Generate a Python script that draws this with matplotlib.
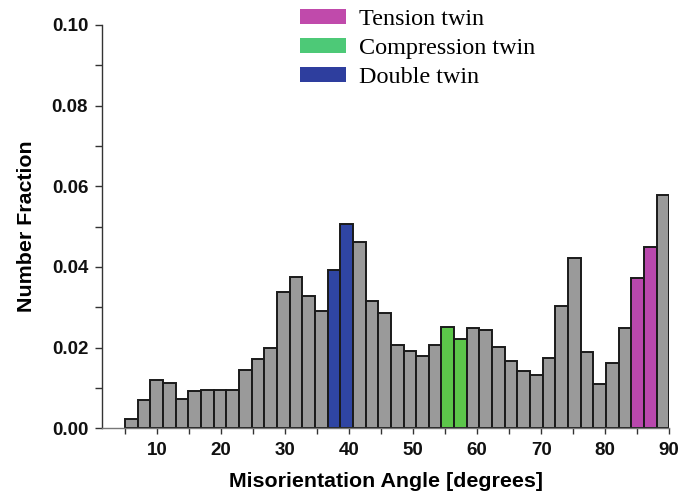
import numpy as np
import matplotlib
matplotlib.use("Agg")
import matplotlib.pyplot as plt
from matplotlib.patches import Patch
from matplotlib.ticker import MultipleLocator

# Misorientation-angle histogram: 43 equal bins spanning 5-90 degrees
angle_min = 5.0
angle_max = 90.0
fractions = [
    0.0022, 0.0070, 0.0120, 0.0113, 0.0073, 0.0093, 0.0096, 0.0096, 0.0096, 0.0144,
    0.0171, 0.0199, 0.0339, 0.0376, 0.0328, 0.0290, 0.0392, 0.0506, 0.0462, 0.0315,
    0.0287, 0.0207, 0.0192, 0.0178, 0.0206, 0.0252, 0.0221, 0.0249, 0.0244, 0.0202,
    0.0166, 0.0141, 0.0131, 0.0173, 0.0303, 0.0421, 0.0188, 0.0111, 0.0161, 0.0249,
    0.0372, 0.0449, 0.0579,
]
# twin type of each bin: '' = ordinary boundary
twin_type = [''] * len(fractions)
for i in (16, 17):
    twin_type[i] = 'double'
for i in (25, 26):
    twin_type[i] = 'compression'
for i in (40, 41):
    twin_type[i] = 'tension'

bar_colors = {
    '': '#9a9a9a',
    'double': '#2f45a3',
    'compression': '#5cc64a',
    'tension': '#b948ad',
}
legend_labels = ['Tension twin', 'Compression twin', 'Double twin']
legend_colors = ['#c04aab', '#4dc977', '#2e3e9e']

edges = np.linspace(angle_min, angle_max, len(fractions) + 1)
widths = np.diff(edges)

fig = plt.figure(figsize=(6.85, 4.98), dpi=100)
ax = fig.add_axes([0.149, 0.140, 0.828, 0.810])

ax.bar(edges[:-1], fractions, width=widths, align='edge',
       color=[bar_colors[t] for t in twin_type],
       edgecolor='#1a1a1a', linewidth=1.4, zorder=2)

ax.set_xlim(1.4, 90)
ax.set_ylim(0, 0.10)

for s in ('top', 'right'):
    ax.spines[s].set_visible(False)
ax.spines['left'].set_color('#333333')
ax.spines['bottom'].set_color('#777777')
ax.spines['left'].set_linewidth(1.0)
ax.spines['bottom'].set_linewidth(1.0)

ax.xaxis.set_major_locator(MultipleLocator(10))
ax.xaxis.set_minor_locator(MultipleLocator(5))
ax.yaxis.set_major_locator(MultipleLocator(0.02))
ax.yaxis.set_minor_locator(MultipleLocator(0.01))
ax.tick_params(axis='both', which='both', direction='out', color='#333333', width=1.0)
ax.tick_params(axis='x', which='both', length=4)
ax.tick_params(axis='y', which='both', length=5)
ax.tick_params(axis='x', which='major', labelsize=13.5, pad=6)
ax.tick_params(axis='y', which='major', labelsize=13.5, pad=5)
ax.set_xticks(np.arange(10, 91, 10))
ax.set_yticklabels([f'{v:.2f}' for v in ax.get_yticks()])

font_sans = ['Liberation Sans', 'DejaVu Sans']
for lab in ax.get_xticklabels() + ax.get_yticklabels():
    lab.set_fontfamily(font_sans)
    lab.set_fontweight('bold')
    lab.set_color('#111111')

ax.set_xlabel('Misorientation Angle [degrees]', fontsize=15.4, fontweight='bold',
              family=font_sans, labelpad=9)
ax.set_ylabel('Number Fraction', fontsize=15.4, fontweight='bold',
              family=font_sans, labelpad=11)

handles = [Patch(facecolor=c, edgecolor='none') for c in legend_colors]
fig.legend(handles, legend_labels, loc='upper left', bbox_to_anchor=(0.410, 1.020),
           frameon=False, prop={'family': ['Liberation Serif', 'DejaVu Serif'], 'size': 17.4},
           handlelength=1.9, handleheight=0.58, handletextpad=0.55, labelspacing=0.32,
           borderpad=0.3)

fig.savefig('out.png', dpi=100)
